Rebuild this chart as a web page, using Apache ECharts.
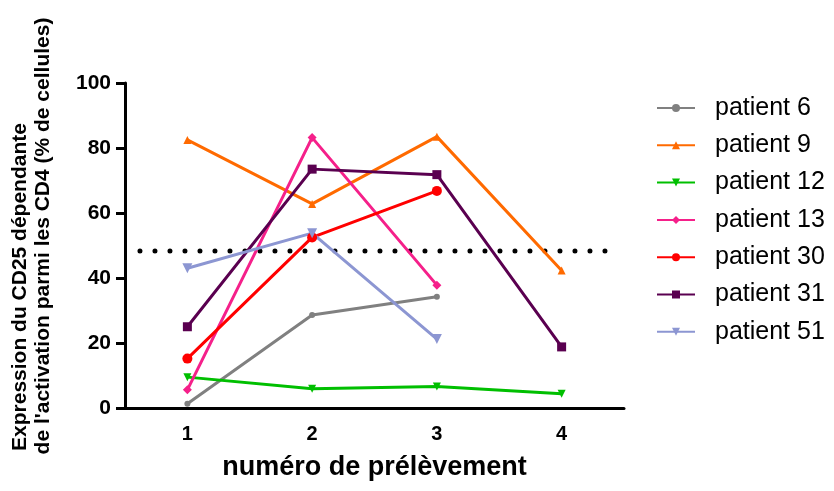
<!DOCTYPE html>
<html><head><meta charset="utf-8">
<script src="https://cdn.jsdelivr.net/npm/echarts@6/dist/echarts.min.js"></script>
<style>html,body{margin:0;padding:0;background:#fff}#c{width:834px;height:491px}</style>
</head><body><div id="c"></div>
<script>
const categories = ['1','2','3','4'];
const yTicks = [0,20,40,60,80,100];
const p6  = [1.3, 28.6, 34.2, null];
const p9  = [82.5, 62.8, 83.5, 42.3];
const p12 = [9.5, 5.9, 6.6, 4.4];
const p13 = [5.6, 83.2, 37.8, null];
const p30 = [15.2, 52.5, 66.8, null];
const p31 = [25.0, 73.5, 71.8, 18.8];
const p51 = [43.0, 53.8, 21.2, null];
const threshold = 48.3;
const thresholdSpan = [0.62, 4.36];
const yTitle1 = 'Expression du CD25 dépendante';
const yTitle2 = 'de l\'activation parmi les CD4 (% de cellules)';
const xTitle = 'numéro de prélèvement';

const F = 'Liberation Sans, Arial, sans-serif';
const specs = [
  {name:'patient 6', data:p6, color:'#808080', symbol:'circle', size:6, rot:0},
  {name:'patient 9', data:p9, color:'#FF6A00', symbol:'triangle', size:8, rot:0},
  {name:'patient 12', data:p12, color:'#00BF00', symbol:'triangle', size:8, rot:180},
  {name:'patient 13', data:p13, color:'#F5208A', symbol:'diamond', size:9, rot:0},
  {name:'patient 30', data:p30, color:'#FF0000', symbol:'circle', size:10, rot:0},
  {name:'patient 31', data:p31, color:'#5A0050', symbol:'rect', size:9, rot:0},
  {name:'patient 51', data:p51, color:'#8C96D2', symbol:'triangle', size:10, rot:180}
];
const series = specs.map(s => ({
  name:s.name, type:'line', data:s.data, symbol:s.symbol, symbolSize:s.size, symbolRotate:s.rot,
  showSymbol:true, connectNulls:false,
  lineStyle:{color:s.color, width:3}, itemStyle:{color:s.color}, emphasis:{disabled:true}, z:3
}));
series.push({
  name:'seuil', type:'line', xAxisIndex:1, yAxisIndex:0, symbol:'none',
  data: thresholdSpan.map(x => [x, threshold]),
  lineStyle:{color:'#000', width:5, type:[0,15], cap:'round'}, z:2, silent:true
});

const chart = echarts.init(document.getElementById('c'), null, {renderer:'canvas'});
chart.setOption({
  animation:false,
  backgroundColor:'#fff',
  grid:{left:125, top:83, right:210, bottom:83},
  legend:{
    data:specs.map(s=>s.name), orient:'vertical', left:651, top:90.5, padding:5,
    itemWidth:38, itemHeight:10, itemGap:12.3,
    textStyle:{fontFamily:F, fontSize:25, lineHeight:25, color:'#000', padding:[0,0,0,15]},
    selectedMode:false
  },
  graphic:[
    {type:'text', x:20, y:287, rotation:Math.PI/2,
     style:{text:yTitle1, font:'bold 21px '+F, fill:'#000', align:'center', verticalAlign:'middle'}},
    {type:'text', x:43, y:236, rotation:Math.PI/2,
     style:{text:yTitle2, font:'bold 21px '+F, fill:'#000', align:'center', verticalAlign:'middle'}}
  ],
  xAxis:[{
    type:'category', data:categories, boundaryGap:true,
    name:xTitle, nameLocation:'middle', nameGap:46,
    nameTextStyle:{fontFamily:F, fontSize:27, fontWeight:'bold', color:'#000'},
    axisLine:{lineStyle:{color:'#000', width:3}},
    axisTick:{alignWithLabel:true, length:9, lineStyle:{color:'#000', width:3}},
    axisLabel:{fontFamily:F, fontSize:20, fontWeight:'bold', color:'#000', margin:16},
    splitLine:{show:false}
  },{
    type:'value', min:0.5, max:4.5, show:false
  }],
  yAxis:{
    type:'value', min:yTicks[0], max:yTicks[yTicks.length-1], interval:20,
    axisLine:{show:true, lineStyle:{color:'#000', width:3}},
    axisTick:{show:true, length:9, lineStyle:{color:'#000', width:3}},
    axisLabel:{fontFamily:F, fontSize:21, fontWeight:'bold', color:'#000', margin:14},
    splitLine:{show:false}
  },
  series:series
});
</script></body></html>
